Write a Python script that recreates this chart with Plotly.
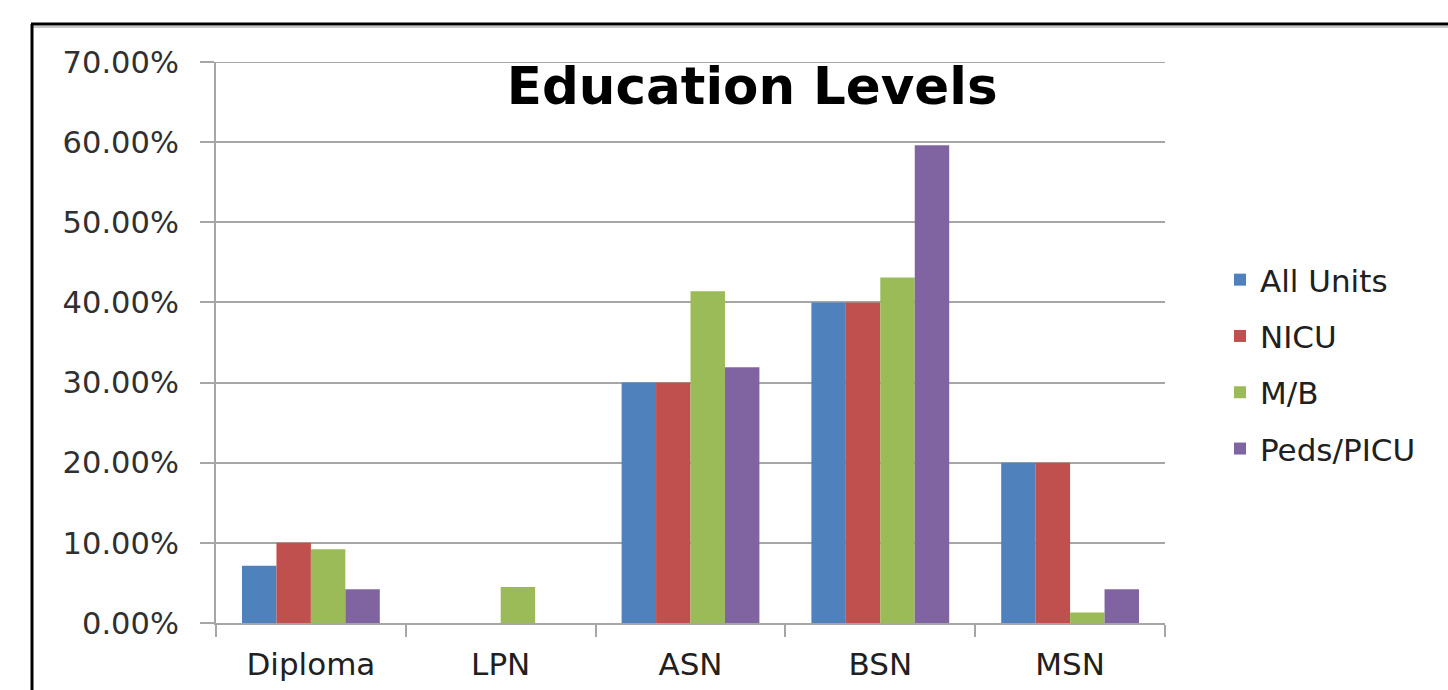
import plotly.graph_objects as go

categories = ["Diploma", "LPN", "ASN", "BSN", "MSN"]
all_units = [0.0714, 0.0, 0.30, 0.40, 0.20]
nicu = [0.10, 0.0, 0.30, 0.40, 0.20]
mb = [0.092, 0.045, 0.414, 0.431, 0.013]
peds_picu = [0.042, 0.0, 0.319, 0.596, 0.042]

series_names = ["All Units", "NICU", "M/B", "Peds/PICU"]
series_values = [all_units, nicu, mb, peds_picu]
colors = ["#4F81BD", "#C0504D", "#9BBB59", "#8064A2"]

W, H = 1448, 690
L, R, T, B = 216, 283, 62, 67

fig = go.Figure()
for i, (name, vals, col) in enumerate(zip(series_names, series_values, colors)):
    fig.add_trace(go.Bar(
        x=categories, y=vals, name=name, marker_color=col,
        marker_line_width=0, legendgroup=name,
    ))

font_family = "DejaVu Sans"
grid_col = "#A6A6A6"

fig.update_layout(
    width=W, height=H,
    margin=dict(l=L, r=R, t=T, b=B, pad=0, autoexpand=False),
    paper_bgcolor="white", plot_bgcolor="white",
    barmode="group", bargap=0.274, bargroupgap=0,
    font=dict(family=font_family, color="#404040", size=28),
    title=dict(
        text="<b>Education Levels</b>",
        font=dict(family=font_family, size=51.5, color="black"),
        x=0.565, xref="paper", xanchor="center",
        y=1 - 86 / H, yref="container", yanchor="middle",
    ),
    showlegend=True,
    legend=dict(
        x=(1220 - L) / (W - L - R), xanchor="left",
        y=(H - B - 253) / (H - T - B), yanchor="top",
        font=dict(family=font_family, size=31, color="#202020"),
        tracegroupgap=13, itemwidth=30, bgcolor="rgba(0,0,0,0)",
    ),
    xaxis=dict(
        type="category", showline=True, linecolor=grid_col, linewidth=2,
        ticks="outside", tickson="boundaries", ticklen=12, tickcolor=grid_col,
        tickwidth=2, showgrid=False, ticklabelstandoff=13, automargin=False,
        tickfont=dict(family=font_family, size=31, color="#202020"),
    ),
    yaxis=dict(
        range=[0, 0.7], dtick=0.1, tickformat=".2%",
        showgrid=True, gridcolor=grid_col, gridwidth=2,
        showline=True, linecolor=grid_col, linewidth=2,
        ticks="outside", ticklen=14, tickcolor=grid_col, tickwidth=2,
        zeroline=False, ticklabelstandoff=15, automargin=False,
        tickfont=dict(family=font_family, size=30.5, color="#303030"),
    ),
)

pw = W - L - R
ph = H - T - B
def px_x(p):
    return (p - L) / pw
def px_y(p):
    return (H - B - p) / ph

# top gridline at the axis maximum
fig.add_shape(type="line", xref="paper", yref="y",
              x0=0, x1=1, y0=0.7, y1=0.7,
              line=dict(color=grid_col, width=2))

# outer frame (top and left edges visible)
fig.add_shape(type="line", xref="paper", yref="paper",
              x0=px_x(31), x1=px_x(W + 5), y0=px_y(24), y1=px_y(24),
              line=dict(color="black", width=3))
fig.add_shape(type="line", xref="paper", yref="paper",
              x0=px_x(31), x1=px_x(W + 5), y0=px_y(27), y1=px_y(27),
              line=dict(color="#C8C8C8", width=2))
fig.add_shape(type="line", xref="paper", yref="paper",
              x0=px_x(32), x1=px_x(32), y0=px_y(24), y1=px_y(H + 5),
              line=dict(color="black", width=3))

fig.write_html("out.html")
